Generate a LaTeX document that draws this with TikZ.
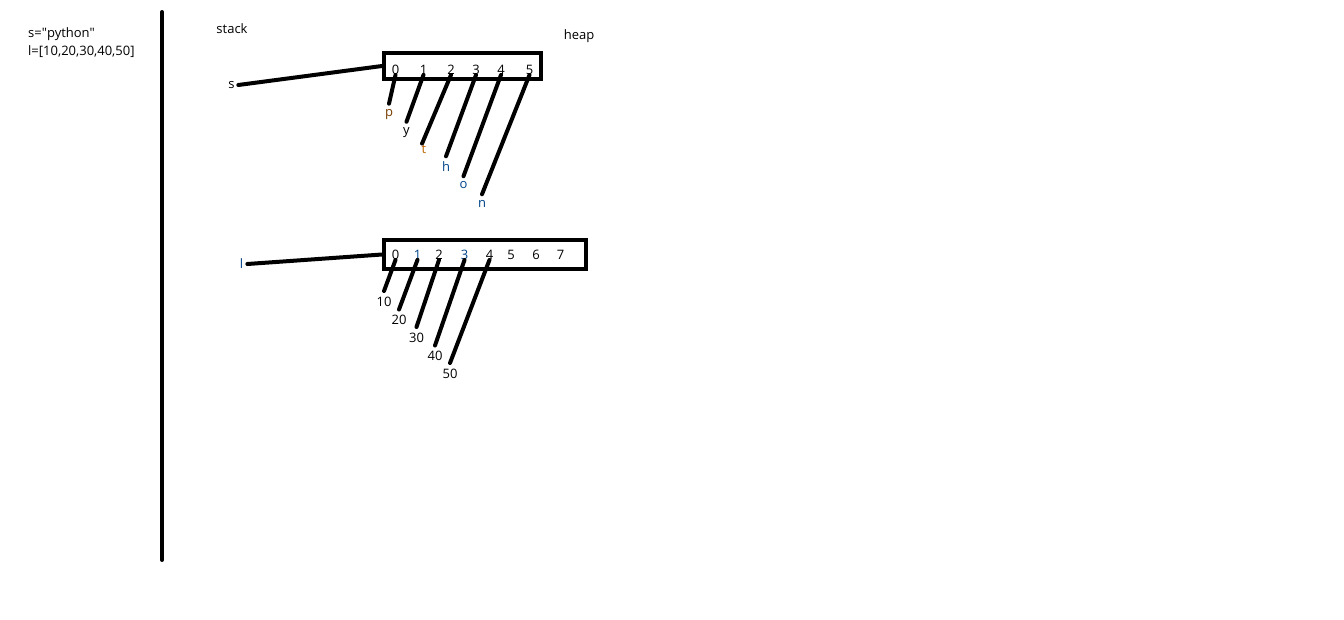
\documentclass[tikz,border=0pt]{standalone}
\usepackage{fontspec}
\setmainfont{Open Sans}
\usetikzlibrary{positioning}
\definecolor{inkbrown}{RGB}{120,60,0}
\definecolor{inkorange}{RGB}{190,100,0}
\definecolor{inkblue}{RGB}{0,70,140}

\begin{document}
\begin{tikzpicture}[
			x=1pt, y=-1pt,
			txt/.style={
				font=\fontsize{13}{15}\selectfont,
				inner sep=3pt
			},
			idx/.style={txt, inner sep=0pt},
			item/.style={txt, inner sep=5.5pt},
			cellbox/.style={
				draw,
				line width=4pt,
				inner sep=0pt
			},
			wire/.style={line width=4pt, line cap=round}
			]
			
			\fill[white] (0,0) rectangle (1344,619);
			\useasboundingbox (0,0) rectangle (1344,619);
			
			\node[txt,anchor=west] (code1) at (25,34) {s=\textquotedbl python\textquotedbl};
			\node[txt,anchor=west] (code2) at (25,52) {l=[10,20,30,40,50]};
			
			\draw[wire] (162,12) -- (162,560);
			
			\node[txt] (stack) at (232,28.5) {stack};
			\node[txt] (heap) at (579,36.5) {heap};
			
			\node[cellbox,minimum width=157pt,minimum height=26pt] (strbox) at (462.5,66) {};
			\node[cellbox,minimum width=202pt,minimum height=29pt] (lstbox) at (485,254.5) {};
			
			\node[txt,inner sep=3.5pt] (sname) at (231.5,85) {s};
			\node[txt,inner sep=4pt,text=inkblue] (lname) at (241.5,264) {l};
			
			\node[idx] (s0) at (395.5,70) {0};
			\node[idx] (s1) at (423.5,70) {1};
			\node[idx] (s2) at (451,70) {2};
			\node[idx] (s3) at (476,70) {3};
			\node[idx] (s4) at (501,70) {4};
			\node[idx] (s5) at (529.5,70) {5};
			
			\node[item,text=inkbrown] (cp) at (389,114.5) {p};
			\node[item] (cy) at (406.5,132.5) {y};
			\node[item,text=inkorange] (ct) at (424,149) {t};
			\node[item,text=inkblue] (ch) at (446,167) {h};
			\node[item,text=inkblue] (co) at (463.5,185.5) {o};
			\node[item,text=inkblue] (cn) at (482,203.5) {n};
			
			\node[idx] (l0) at (395.5,255) {0};
			\node[idx,text=inkblue] (l1) at (417.5,255) {1};
			\node[idx] (l2) at (439,255) {2};
			\node[idx,text=inkblue] (l3) at (464.5,255) {3};
			\node[idx] (l4) at (489.5,255) {4};
			\node[idx] (l5) at (511,255) {5};
			\node[idx] (l6) at (536,255) {6};
			\node[idx] (l7) at (560.5,255) {7};
			
			\node[item] (v10) at (384,301.5) {10};
			\node[item] (v20) at (399,320) {20};
			\node[item] (v30) at (416.5,337.5) {30};
			\node[item] (v40) at (435,356) {40};
			\node[item] (v50) at (450,373.5) {50};
			
			\draw[wire] (sname.east) -- (strbox.west);
			\draw[wire] (lname.east) -- (lstbox.west);
			
			\draw[wire] (s0.south) -- (cp.north);
			\draw[wire] (s1.south) -- (cy.north);
			\draw[wire,shorten >=-5pt] (s2.south) -- (ct.north);
			\draw[wire] (s3.south) -- (ch.north);
			\draw[wire] (s4.south) -- (co.north);
			\draw[wire] (s5.south) -- (cn.north);
			
			\draw[wire] (l0.south) -- (v10.north);
			\draw[wire] (l1.south) -- (v20.north);
			\draw[wire] (l2.south) -- (v30.north);
			\draw[wire] (l3.south) -- (v40.north);
			\draw[wire] (l4.south) -- (v50.north);
			
		\end{tikzpicture}
\end{document}
